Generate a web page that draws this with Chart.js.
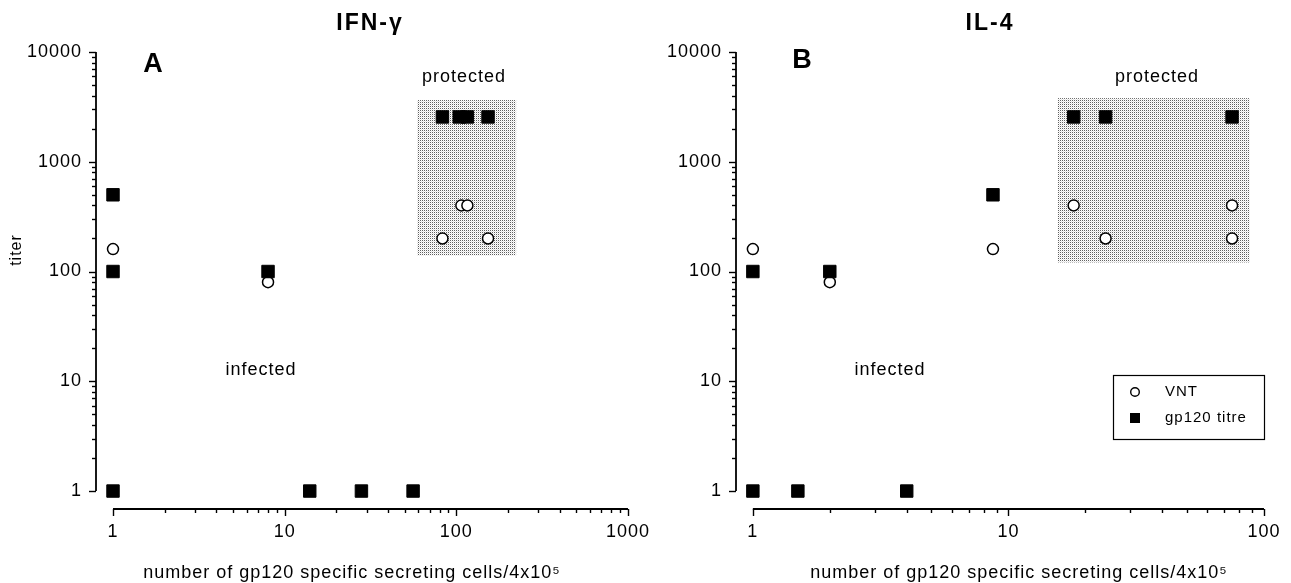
<!DOCTYPE html>
<html><head><meta charset="utf-8">
<script src="https://cdn.jsdelivr.net/npm/chart.js@4.4.1/dist/chart.umd.min.js"></script>
<style>
html,body{margin:0;padding:0;background:#fff;width:1291px;height:583px;overflow:hidden}
canvas{position:absolute;top:0}
#cA{left:0}
#cB{left:660px}
</style></head><body>
<canvas id="cA" width="660" height="583"></canvas>
<canvas id="cB" width="631" height="583"></canvas>
<script>
// ---- Panel A (IFN-γ) ----
const vntA_x = [1, 8, 83, 107, 116, 153];
const vntA_y = [160, 80, 200, 400, 400, 200];
const gpA_x = [1, 1, 1, 8, 14, 28, 56, 83, 104, 116, 153];
const gpA_y = [500, 100, 1, 100, 1, 1, 1, 2560, 2560, 2560, 2560];
// ---- Panel B (IL-4) ----
const vntB_x = [1, 2, 8.7, 18, 24, 75, 75];
const vntB_y = [160, 80, 160, 400, 200, 400, 200];
const gpB_x = [1, 1, 1.5, 2, 4, 8.7, 18, 24, 75];
const gpB_y = [100, 1, 1, 100, 1, 500, 2560, 2560, 2560];
// protected (shaded) region bounds: [xMin, xMax, yMin, yMax]
const protA = [59, 223, 140, 3650];
const protB = [15.6, 88, 121, 3800];
// tick labels
const yTickLabels = ['1', '10', '100', '1000', '10000'];
const xTickLabelsA = ['1', '10', '100', '1000'];
const xTickLabelsB = ['1', '10', '100'];
// texts
const seriesNames = ['VNT', 'gp120 titre'];
const panelTitles = ['IFN-γ', 'IL-4'];
const panelLetters = ['A', 'B'];
const regionNames = ['protected', 'infected'];
const xAxisTitle = 'number of gp120 specific secreting cells/4x10⁵';
const yAxisTitle = 'titer';

Chart.defaults.font.family = '"Liberation Sans", Arial, Helvetica, sans-serif';
Chart.defaults.color = '#000';

function logTicks(labels) {
  const vals = labels.map(Number);
  const out = [];
  for (let i = 0; i < vals.length - 1; i++) {
    for (let k = 1; k < 10; k++) out.push({ value: vals[i] * k, major: k === 1 });
  }
  out.push({ value: vals[vals.length - 1], major: true });
  return out;
}
function toPts(xs, ys) { return xs.map((x, i) => ({ x: x, y: ys[i] })); }

function makePattern(ctx) {
  const c = document.createElement('canvas');
  c.width = 2; c.height = 2;
  const g = c.getContext('2d');
  g.fillStyle = '#fff'; g.fillRect(0, 0, 2, 2);
  g.fillStyle = 'rgb(95,95,95)'; g.fillRect(0, 0, 1, 1);
  g.fillStyle = 'rgb(225,225,225)'; g.fillRect(1, 1, 1, 1);
  return ctx.createPattern(c, 'repeat');
}

function txt(ctx, s, x, y, font, align, ls) {
  ctx.save();
  ctx.font = font;
  ctx.letterSpacing = ls || '1px';
  ctx.textAlign = align || 'center';
  ctx.textBaseline = 'middle';
  ctx.fillStyle = '#000';
  ctx.fillText(s, x, y);
  ctx.restore();
}

const decor = {
  id: 'decor',
  beforeDraw(chart) { chart.ctx.letterSpacing = '1px'; },
  beforeDatasetsDraw(chart, args, o) {
    const { ctx, scales: { x, y } } = chart;
    const r = o.shade;
    const x0 = x.getPixelForValue(r[0]), x1 = x.getPixelForValue(r[1]);
    const y0 = y.getPixelForValue(r[3]), y1 = y.getPixelForValue(r[2]);
    ctx.save();
    ctx.fillStyle = makePattern(ctx);
    ctx.fillRect(x0, y0, x1 - x0, y1 - y0);
    ctx.restore();
  },
  afterDraw(chart, args, o) {
    const { ctx, scales: { x, y }, chartArea: ca } = chart;
    ctx.save();
    ctx.strokeStyle = '#000';
    const xs = x.ticks;
    ctx.lineWidth = 1.8;
    ctx.beginPath();
    ctx.moveTo(x.getPixelForValue(xs[0].value), ca.bottom);
    ctx.lineTo(x.getPixelForValue(xs[xs.length - 1].value), ca.bottom);
    ctx.stroke();
    ctx.lineWidth = 1.4;
    xs.forEach(t => {
      const px = Math.round(x.getPixelForValue(t.value)) + 0.5;
      ctx.beginPath(); ctx.moveTo(px, ca.bottom); ctx.lineTo(px, ca.bottom + (t.major ? 7 : 4)); ctx.stroke();
    });
    const ys = y.ticks;
    ctx.lineWidth = 1.8;
    ctx.beginPath();
    ctx.moveTo(ca.left, y.getPixelForValue(ys[0].value));
    ctx.lineTo(ca.left, y.getPixelForValue(ys[ys.length - 1].value));
    ctx.stroke();
    ctx.lineWidth = 1.4;
    ys.forEach(t => {
      const py = Math.round(y.getPixelForValue(t.value)) + 0.5;
      ctx.beginPath(); ctx.moveTo(ca.left, py); ctx.lineTo(ca.left - (t.major ? 7 : 4), py); ctx.stroke();
    });
    ctx.restore();

    txt(ctx, o.title, o.titlePos[0], o.titlePos[1], 'bold 23px "Liberation Sans", Arial, sans-serif', 'center', '2px');
    txt(ctx, o.letter, o.letterPos[0], o.letterPos[1], 'bold 27px "Liberation Sans", Arial, sans-serif', 'center', '0px');
    txt(ctx, regionNames[0], o.protPos[0], o.protPos[1], '18px "Liberation Sans", Arial, sans-serif', 'center', '1px');
    txt(ctx, regionNames[1], o.infPos[0], o.infPos[1], '18px "Liberation Sans", Arial, sans-serif', 'center', '1px');
    txt(ctx, xAxisTitle, o.xTitlePos[0], o.xTitlePos[1], '18px "Liberation Sans", Arial, sans-serif', 'center', '1px');
    if (o.yTitle) {
      ctx.save();
      ctx.translate(o.yTitlePos[0], o.yTitlePos[1]);
      ctx.rotate(-Math.PI / 2);
      txt(ctx, yAxisTitle, 0, 0, '16px "Liberation Sans", Arial, sans-serif', 'center', '1px');
      ctx.restore();
    }
    if (o.legend) {
      const L = o.legend;
      ctx.save();
      ctx.fillStyle = '#fff';
      ctx.fillRect(L.x, L.y, L.w, L.h);
      ctx.strokeStyle = '#000'; ctx.lineWidth = 1.2;
      ctx.strokeRect(L.x + 0.5, L.y + 0.5, L.w, L.h);
      chart.data.datasets.forEach((ds, i) => {
        const cy = L.y + 17 + i * 26;
        const cx = L.x + 22;
        ctx.fillStyle = ds.backgroundColor; ctx.strokeStyle = '#000';
        if (ds.pointStyle === 'circle') {
          ctx.lineWidth = 1.4;
          ctx.beginPath(); ctx.arc(cx, cy, 4.3, 0, Math.PI * 2); ctx.fill(); ctx.stroke();
        } else {
          ctx.fillStyle = '#000';
          ctx.fillRect(cx - 5, cy - 5, 10, 10);
        }
        txt(ctx, ds.label, L.x + 52, cy, '15px "Liberation Sans", Arial, sans-serif', 'left', '1px');
      });
      ctx.restore();
    }
  }
};

function makeChart(id, vx, vy, gx, gy, xLabels, xMin, yAxisW, padRight, opts) {
  const yLbl = new Set(yTickLabels.map(Number));
  const xLbl = new Set(xLabels.map(Number));
  return new Chart(document.getElementById(id), {
    type: 'scatter',
    data: {
      datasets: [
        { label: seriesNames[0], data: toPts(vx, vy), pointStyle: 'circle', pointRadius: 5.5,
          pointBorderWidth: 1.5, backgroundColor: '#fff', borderColor: '#000', order: 1 },
        { label: seriesNames[1], data: toPts(gx, gy), pointStyle: 'rect', pointRadius: 8.8,
          pointBorderWidth: 1, backgroundColor: '#000', borderColor: '#000', order: 0 }
      ]
    },
    options: {
      responsive: false, animation: false, events: [],
      layout: { padding: { top: 52, right: padRight, left: 0, bottom: 0 } },
      scales: {
        x: {
          type: 'logarithmic', min: xMin, max: Number(xLabels[xLabels.length - 1]),
          grid: { display: false, drawTicks: false }, border: { display: false },
          afterBuildTicks: s => { s.ticks = logTicks(xLabels); },
          afterFit: s => { s.height = 74; },
          ticks: { autoSkip: false, maxRotation: 0, padding: 12, font: { size: 18 },
            callback: v => xLbl.has(v) ? String(v) : '' }
        },
        y: {
          type: 'logarithmic', min: 0.686, max: 10000,
          grid: { display: false, drawTicks: false }, border: { display: false },
          afterBuildTicks: s => { s.ticks = logTicks(yTickLabels); },
          afterFit: s => { s.width = yAxisW; },
          ticks: { autoSkip: false, padding: 14, font: { size: 18 },
            callback: v => yLbl.has(v) ? String(v) : '' }
        }
      },
      plugins: { legend: { display: false }, tooltip: { enabled: false }, decor: opts }
    },
    plugins: [decor]
  });
}

makeChart('cA', vntA_x, vntA_y, gpA_x, gpA_y, xTickLabelsA, 0.796, 96, 31, {
  shade: protA, title: panelTitles[0], titlePos: [370, 24], letter: panelLetters[0], letterPos: [153, 65],
  protPos: [464, 77], infPos: [261, 370], xTitlePos: [352, 573], yTitle: true, yTitlePos: [17, 250], legend: null
});
makeChart('cB', vntB_x, vntB_y, gpB_x, gpB_y, xTickLabelsB, 0.859, 76, 24, {
  shade: protB, title: panelTitles[1], titlePos: [330, 24], letter: panelLetters[1], letterPos: [142, 61],
  protPos: [497, 77], infPos: [230, 370], xTitlePos: [359, 573], yTitle: false, legend: { x: 453, y: 375, w: 151, h: 64 }
});
</script>
</body></html>
